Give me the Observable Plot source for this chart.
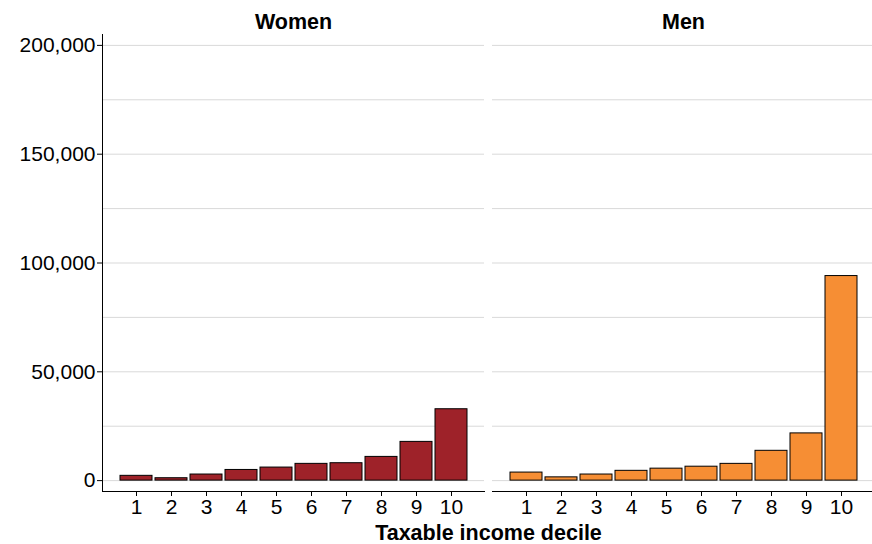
<!DOCTYPE html>
<html><head><meta charset="utf-8">
<script src="https://cdn.jsdelivr.net/npm/d3@7"></script>
<script src="https://cdn.jsdelivr.net/npm/@observablehq/plot@0.6"></script>
<style>
html,body{margin:0;background:#fff;overflow:hidden}
#chart svg{display:block;font-family:"Liberation Sans",Arial,Helvetica,sans-serif}
</style>
</head><body><div id="chart"></div>
<script>
const sexes = ["Women", "Men"];
const deciles = ["1","2","3","4","5","6","7","8","9","10"];
const women = [2200, 1100, 2800, 4900, 6000, 7700, 8000, 10900, 17800, 32800];
const men = [3700, 1500, 2800, 4500, 5500, 6400, 7700, 13700, 21700, 94000];
const yTicks = [0, 50000, 100000, 150000, 200000];
const gridTicks = [0, 25000, 50000, 75000, 100000, 125000, 150000, 175000, 200000];
const yDomain = [-5000, 205000];
const colors = ["#9e2229", "#f68e34"];
const xLabel = "Taxable income decile";

const data = [
  ...women.map((v, i) => ({sex: "Women", decile: deciles[i], value: v})),
  ...men.map((v, i) => ({sex: "Men", decile: deciles[i], value: v}))
];

const chart = Plot.plot({
  width: 872,
  height: 544,
  marginLeft: 102,
  marginRight: -3,
  marginTop: 34,
  marginBottom: 53,
  style: {fontSize: "21px", color: "#000", background: "#fff", overflow: "hidden"},
  fx: {domain: sexes, paddingInner: 0.0205, paddingOuter: 0, label: null},
  x: {domain: deciles, paddingInner: 0.1, paddingOuter: 0.5, label: null},
  y: {domain: yDomain, label: null},
  color: {domain: sexes, range: colors},
  marks: [
    Plot.gridY(gridTicks, {stroke: "#d9d9d9", strokeOpacity: 1, strokeWidth: 1}),
    Plot.barY(data, {fx: "sex", x: "decile", y1: 0, y2: "value", fill: "sex", stroke: "#000", strokeWidth: 1}),
    Plot.frame({anchor: "bottom", stroke: "#000"}),
    Plot.frame({anchor: "left", facetAnchor: "left", stroke: "#000"}),
    Plot.axisY({ticks: yTicks, tickFormat: d3.format(","), tickSize: 5, tickPadding: 2, label: null, facetAnchor: "left", fontSize: 21}),
    Plot.axisX({tickSize: 5, tickPadding: 3, label: null, fontSize: 21}),
    Plot.axisFx({anchor: "top", label: null, tickSize: 0, tickPadding: 6, fontWeight: "bold", fontSize: 21.5}),
    Plot.text([xLabel], {frameAnchor: "bottom", facet: "super", dy: 48, fontWeight: "bold", fontSize: 21.5, fill: "#000"})
  ]
});
document.getElementById("chart").append(chart);
</script>
</body></html>
